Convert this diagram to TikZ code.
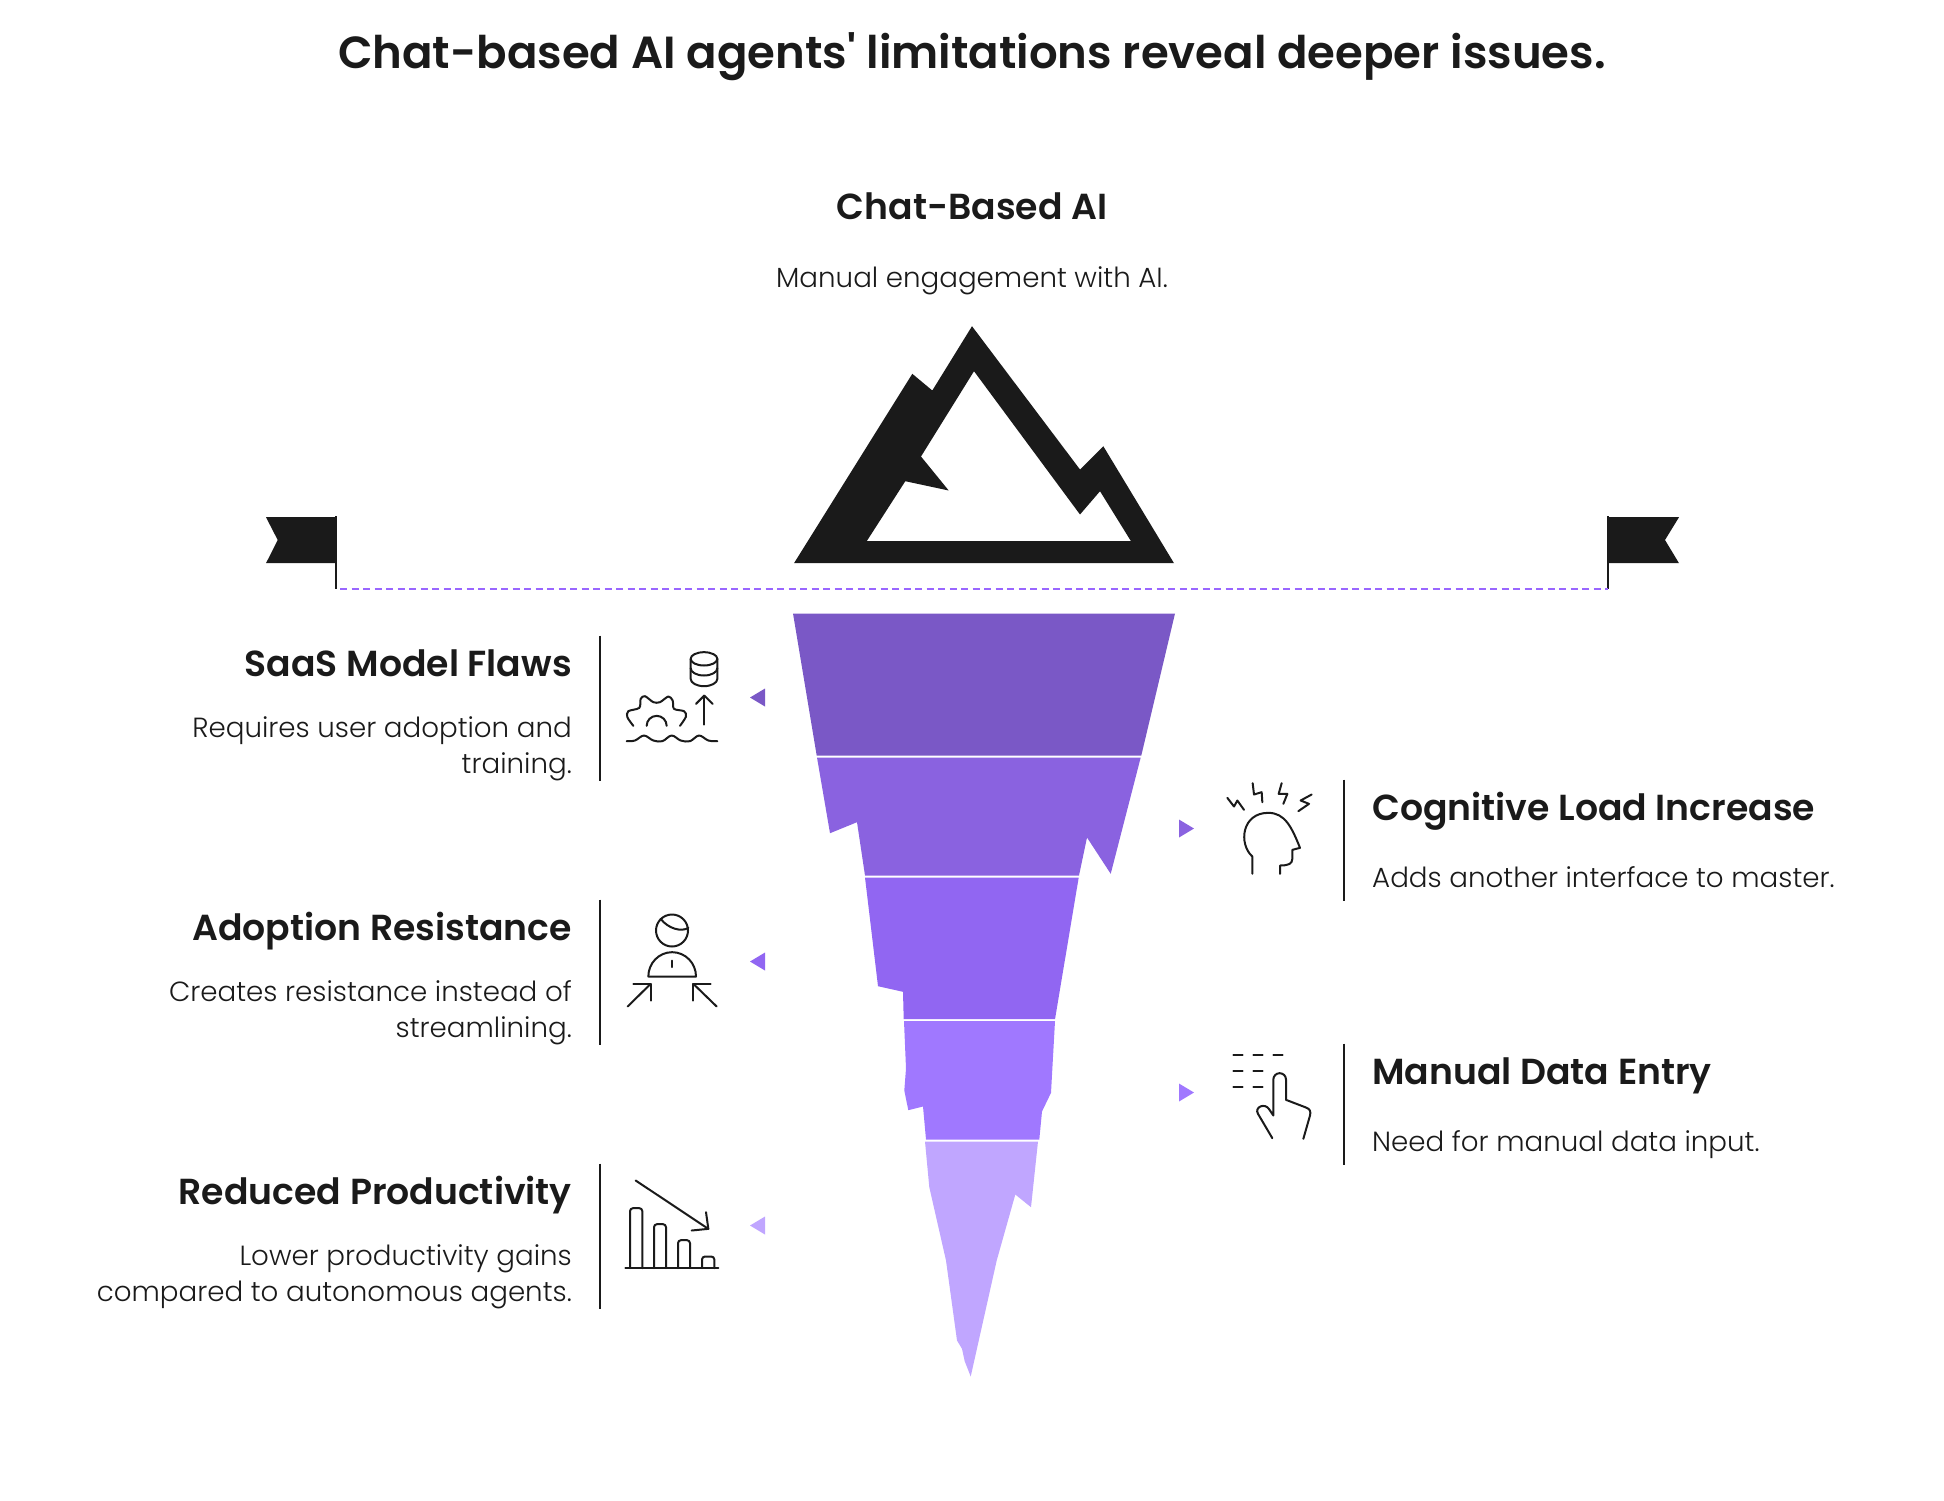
\documentclass[tikz,border=0pt]{standalone}
\usepackage{fontspec}
\usepackage{tikz}
\usetikzlibrary{positioning}
\setmainfont{Poppins}
\newfontfamily\headfont{Poppins SemiBold}
\newfontfamily\bodyfont{Poppins Light}
\definecolor{ink}{HTML}{1A1A1A}
\definecolor{shelfa}{HTML}{7A58C6}
\definecolor{shelfb}{HTML}{8A62E0}
\definecolor{shelfc}{HTML}{9166F2}
\definecolor{shelfd}{HTML}{A078FF}
\definecolor{shelfe}{HTML}{C0A6FF}
\definecolor{waterline}{HTML}{9966FF}
\tikzset{
    titletext/.style={inner sep=0pt, anchor=base, text=ink, font=\headfont\fontsize{45}{56}\selectfont},
    headtext/.style={inner sep=0pt, text=ink, font=\headfont\fontsize{36.2}{46}\selectfont},
    bodytext/.style={inner sep=0pt, text=ink, font=\bodyfont\fontsize{27.7}{36}\selectfont, execute at begin node=\strut},
    icon/.style={draw=ink, line width=2pt, line join=round, line cap=round},
    rulebar/.style={draw=ink, line width=1.6pt},
}
\begin{document}
\begin{tikzpicture}[x=1pt, y=-1pt]
    \useasboundingbox (0,-0.5) rectangle (1944,1499.5);

    \node (title) [titletext] at (972,68) {Chat-based AI agents' limitations reveal deeper issues.};
    \node (tiphead) [headtext, anchor=base] at (972,219) {Chat-Based AI};
    \node (tipbody) [bodytext, below=42.5pt of tiphead.base, anchor=north] {Manual engagement with AI.};

    % mountain
    \fill[ink, even odd rule] (794,562.7) -- (912.3,373.3) -- (932.3,390) -- (972,325.7) -- (1080,469)
        -- (1103.3,445.7) -- (1174,562.7) -- cycle
        (866.7,540.7) -- (905.3,480.7) -- (948.7,490) -- (921,456) -- (974,370.7) -- (1080,514)
        -- (1100,490.7) -- (1131,540.7) -- cycle;

    % flags and water line
    \coordinate (leftfoot) at (336,588);
    \coordinate (lefttop) at (336,515);
    \coordinate (rightfoot) at (1608,588);
    \coordinate (righttop) at (1608,515);
    \fill[ink] (336,516.7) -- (266,516.7) -- (277.7,539.5) -- (266,562.7) -- (336,562.7) -- cycle;
    \fill[ink] (1608,516.7) -- (1679,516.7) -- (1665,539.5) -- (1679,562.7) -- (1608,562.7) -- cycle;
    \draw[ink, line width=1.6pt] (leftfoot) -- (lefttop);
    \draw[ink, line width=1.6pt] (rightfoot) -- (righttop);
    \draw[waterline, line width=2pt, dash pattern=on 7pt off 4.5pt] (leftfoot) ++(4,0) -- (rightfoot);

    % iceberg
    \fill[shelfa] (793,613) -- (1175,613) -- (1141.3,755) -- (816.7,755) -- cycle;
    \fill[shelfb] (817,757) -- (1140.7,757) -- (1110.7,873.3) -- (1087,837) -- (1079,875) -- (865,875)
        -- (857,821.7) -- (830,832.7) -- cycle;
    \fill[shelfc] (865,877) -- (1078.7,877) -- (1055,1018.7) -- (903.7,1018.7) -- (903,991.3) -- (878,985.7) -- cycle;
    \fill[shelfd] (904,1020.7) -- (1055,1020.7) -- (1051,1092.3) -- (1042,1111) -- (1039.3,1139) -- (926,1139)
        -- (923,1106) -- (908.3,1109.7) -- (904.3,1090) -- (906,1068) -- cycle;
    \fill[shelfe] (925,1141) -- (1038,1141) -- (1031,1206.7) -- (1015.3,1194) -- (996.7,1260) -- (970.7,1376)
        -- (964.7,1360.7) -- (962,1348.3) -- (957,1340) -- (946,1260) -- (929.3,1186.7) -- cycle;

    % pointers
    \fill[shelfa] (750,697) -- (765,688) -- (765,706) -- cycle;
    \fill[shelfc] (750,961) -- (765,952) -- (765,970) -- cycle;
    \fill[shelfe] (750,1225) -- (765,1216) -- (765,1234) -- cycle;
    \fill[shelfb] (1194,828) -- (1179,819) -- (1179,837) -- cycle;
    \fill[shelfd] (1194,1092) -- (1179,1083) -- (1179,1101) -- cycle;

    % left column
    \node (saashead) [headtext, anchor=base east] at (572,675.5) {SaaS Model Flaws};
    \node (saasbody) [bodytext, align=right, below=40.5pt of saashead.base east, anchor=north east] {Requires user adoption and\\training.};
    \node (resisthead) [headtext, anchor=base east] at (572,939.5) {Adoption Resistance};
    \node (resistbody) [bodytext, align=right, below=40.5pt of resisthead.base east, anchor=north east] {Creates resistance instead of\\streamlining.};
    \node (prodhead) [headtext, anchor=base east] at (572,1203.5) {Reduced Productivity};
    \node (prodbody) [bodytext, align=right, below=40.5pt of prodhead.base east, anchor=north east] {Lower productivity gains\\compared to autonomous agents.};

    \coordinate (saastop) at (600,635);
    \coordinate (saasend) at (600,780);
    \coordinate (resisttop) at (600,899);
    \coordinate (resistend) at (600,1044);
    \coordinate (prodtop) at (600,1163);
    \coordinate (prodend) at (600,1308);
    \draw[rulebar] (saastop) -- (saasend);
    \draw[rulebar] (resisttop) -- (resistend);
    \draw[rulebar] (prodtop) -- (prodend);

    % right column
    \node (loadhead) [headtext, anchor=base west] at (1372,820) {Cognitive Load Increase};
    \node (loadbody) [bodytext, below=42pt of loadhead.base west, anchor=north west] {Adds another interface to master.};
    \node (entryhead) [headtext, anchor=base west] at (1372,1084) {Manual Data Entry};
    \node (entrybody) [bodytext, below=42pt of entryhead.base west, anchor=north west] {Need for manual data input.};

    \coordinate (loadtop) at (1344,779);
    \coordinate (loadend) at (1344,900);
    \coordinate (entrytop) at (1344,1043);
    \coordinate (entryend) at (1344,1164);
    \draw[rulebar] (loadtop) -- (loadend);
    \draw[rulebar] (entrytop) -- (entryend);

    % saas icon
    \begin{scope}[shift={(600,620)}, scale=1/3]
        \draw[icon] (272,115) arc[start angle=180, end angle=-180, x radius=40, y radius=20];
        \draw[icon] (272,115) -- (272,175) arc[start angle=180, end angle=0, x radius=40, y radius=22] -- (352,115);
        \draw[icon] (272,143) arc[start angle=180, end angle=0, x radius=40, y radius=22];
        \draw[icon] (313,312) -- (313,225);
        \draw[icon] (288,250) -- (313,225) -- (338,250);
        \draw[icon] plot[smooth, tension=.5] coordinates {(100,316) (82,290) (85,272) (118,262) (122,235) (135,227) (160,245) (180,245) (205,228) (218,240) (222,265) (252,272) (258,288) (240,316)};
        \draw[icon] (140,316) arc[start angle=180, end angle=360, radius=30];
        \draw[icon] plot[smooth, tension=.6] coordinates {(80,362) (105,360) (132,345) (160,360) (187,362) (215,345) (242,360) (270,362) (297,345) (325,360) (352,362)};
    \end{scope}

    % resistance icon
    \begin{scope}[shift={(600,890)}, scale=1/3]
        \draw[icon] (216,120) circle[radius=48];
        \draw[icon] (182,85) .. controls (205,115) and (245,125) .. (265,112);
        \draw[icon] (145,258) arc[start angle=180, end angle=360, x radius=71.5, y radius=73] -- cycle;
        \draw[icon] (216,210) -- (216,230);
        \draw[icon] (83,348) -- (152,280);
        \draw[icon] (100,280) -- (152,280) -- (152,330);
        \draw[icon] (350,348) -- (280,280);
        \draw[icon] (332,280) -- (280,280) -- (280,330);
    \end{scope}

    % productivity icon
    \begin{scope}[shift={(600,1160)}, scale=1/3]
        \draw[icon] (107,60) -- (325,205);
        \draw[icon] (275,210) -- (325,205) -- (318,155);
        \draw[icon] (76,323) -- (355,323);
        \draw[icon, rounded corners=3pt] (90,323) -- (90,143) -- (127,143) -- (127,323);
        \draw[icon, rounded corners=3pt] (162,323) -- (162,191) -- (198,191) -- (198,323);
        \draw[icon, rounded corners=3pt] (234,323) -- (234,239) -- (270,239) -- (270,323);
        \draw[icon, rounded corners=3pt] (306,323) -- (306,288) -- (343,288) -- (343,323);
    \end{scope}

    % load icon
    \begin{scope}[shift={(1210,770)}, scale=1/3]
        \draw[icon] (52,82) -- (72,108) -- (82,90) -- (102,118);
        \draw[icon] (128,38) -- (132,72) -- (155,65) -- (157,95);
        \draw[icon] (215,38) -- (206,70) -- (232,70) -- (220,100);
        \draw[icon] (305,72) -- (272,90) -- (297,100) -- (265,122);
        \draw[icon] (127,310) -- (127,258) .. controls (85,220) and (95,127) .. (175,127)
            .. controls (225,127) and (245,170) .. (270,232) -- (247,238) -- (247,265)
            .. controls (247,280) and (235,285) .. (210,285) -- (210,310);
    \end{scope}

    % entry icon
    \begin{scope}[shift={(1210,1035)}, scale=1/3]
        \draw[icon] (70,57) -- (98,57);
        \draw[icon] (130,57) -- (158,57);
        \draw[icon] (190,57) -- (218,57);
        \draw[icon] (70,105) -- (98,105);
        \draw[icon] (130,105) -- (158,105);
        \draw[icon] (70,153) -- (98,153);
        \draw[icon] (130,153) -- (158,153);
        \draw[icon] (187,308) -- (144,235) .. controls (132,215) and (165,200) .. (178,222) -- (190,240)
            -- (190,132) arc[start angle=180, end angle=360, radius=19] -- (228,193) -- (288,216)
            .. controls (300,220) and (303,228) .. (300,240) -- (280,310);
    \end{scope}
\end{tikzpicture}
\end{document}
